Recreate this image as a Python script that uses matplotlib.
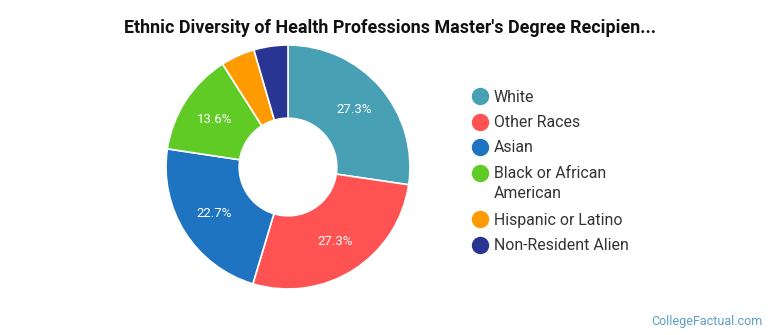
import matplotlib.pyplot as plt
from matplotlib.lines import Line2D

plt.rcParams['font.family'] = ['Roboto', 'DejaVu Sans']

TITLE = "Ethnic Diversity of Health Professions Master's Degree Recipien..."
categories = ['White', 'Other Races', 'Asian', 'Black or African\nAmerican',
              'Hispanic or Latino', 'Non-Resident Alien']
shares = [27.3, 27.3, 22.7, 13.6, 4.5, 4.5]
colors = ['#48a0b4', '#ff5252', '#1e74c0', '#5fcb24', '#ff9a00', '#283593']


def pct_label(p):
    return f'{p:.1f}%' if p > 8 else ''


def run():
    fig = plt.figure(figsize=(7.7, 3.35), dpi=100)
    W, H = 770, 335
    cx, cy, r = 288, 167, 122
    ax = fig.add_axes([(cx - r) / W, (H - cy - r) / H, 2 * r / W, 2 * r / H])
    wedges, texts, autotexts = ax.pie(
        shares, colors=colors, startangle=90, counterclock=False,
        autopct=pct_label, pctdistance=0.72,
        wedgeprops=dict(width=0.6, edgecolor='white', linewidth=1.2),
        textprops=dict(color='white', fontsize=9.5))
    ax.set_xlim(-1, 1)
    ax.set_ylim(-1, 1)
    ax.set_aspect('equal')

    fig.text(390 / W, 1 - 28 / H, TITLE, ha='center', va='center',
             fontsize=12.9, fontweight='bold', color='#111111')

    # legend drawn by hand so the marker sits on the first line of wrapped labels
    y = 96
    for label, c in zip(categories, colors):
        fig.add_artist(Line2D([480 / W], [1 - y / H], marker='o', linestyle='',
                              markersize=11.5, markerfacecolor=c,
                              markeredgecolor=c, transform=fig.transFigure))
        fig.text(494 / W, 1 - (y - 6.5) / H, label, ha='left', va='top',
                 fontsize=11.4, color='#333333', linespacing=1.45)
        y += 25.5 + 21 * label.count('\n')

    fig.text(763 / W, 1 - 321 / H, 'CollegeFactual.com', ha='right',
             va='center', fontsize=9, color='#5b9fc2')

    fig.savefig('out.png', dpi=100)


if __name__ == '__main__':
    run()
